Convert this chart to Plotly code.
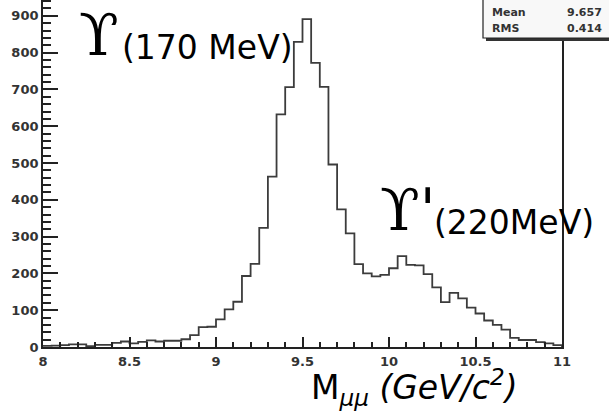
import plotly.graph_objects as go

# ---------------- data ----------------
bin_low = 8.0
bin_width = 0.05
counts = [3, 4, 5, 7, 7, 2, 6, 6, 11, 15,
          10, 14, 18, 15, 17, 17, 21, 32, 54, 55,
          75, 102, 123, 193, 226, 324, 463, 632, 706, 829,
          891, 772, 707, 496, 374, 309, 225, 200, 192, 196,
          214, 247, 223, 222, 198, 162, 122, 147, 132, 107,
          91, 72, 60, 47, 25, 19, 19, 13, 10, 5]
x_tick_vals = [8, 8.5, 9, 9.5, 10, 10.5, 11]
x_tick_text = ["8", "8.5", "9", "9.5", "10", "10.5", "11"]
y_tick_vals = [0, 100, 200, 300, 400, 500, 600, 700, 800, 900]
stat_names = ["Mean", "RMS"]
stat_values = ["9.657", "0.414"]
peak1_symbol = "ϒ"
peak1_text = "(170 MeV)"
peak2_symbol = "ϒ'"
peak2_text = "(220MeV)"
x_title = "M<sub><i>μμ</i></sub> <i>(GeV/c<sup>2</sup>)</i>"

# ---------------- geometry helpers ----------------
W, H = 609, 414
L, R, T, B = 43, 47, 0, 67
PW, PH = W - L - R, H - T - B


def px(xp):
    return (xp - L) / PW


def py(yp):
    return (H - B - yp) / PH


edges = [bin_low + i * bin_width for i in range(len(counts) + 1)]
xs = edges + [edges[-1]]
ys = counts + [counts[-1], 0]

fig = go.Figure()
fig.add_trace(go.Scatter(
    x=xs, y=ys, mode="lines", line_shape="hv",
    line=dict(color="#3c3c3c", width=1.8),
    hoverinfo="skip", showlegend=False, cliponaxis=False,
))

tick_font = dict(family="DejaVu Sans", size=13, color="#333333", weight="bold")

fig.update_layout(
    width=W, height=H,
    margin=dict(l=L, r=R, t=T, b=B, pad=0),
    paper_bgcolor="white", plot_bgcolor="white",
    showlegend=False,
    xaxis=dict(
        range=[8, 11], tickvals=x_tick_vals, ticktext=x_tick_text,
        ticks="inside", ticklen=10, tickwidth=1.5, tickcolor="#222",
        minor=dict(dtick=0.1, ticks="inside", ticklen=5, tickwidth=1.5, tickcolor="#222"),
        showline=True, linecolor="#222", linewidth=1.8, mirror=False,
        showgrid=False, zeroline=False, tickfont=tick_font,
        ticklabelstandoff=1,
    ),
    yaxis=dict(
        range=[0, 943], tickvals=y_tick_vals,
        ticks="inside", ticklen=15, tickwidth=1.5, tickcolor="#222",
        minor=dict(dtick=20, ticks="inside", ticklen=8, tickwidth=1.5, tickcolor="#222"),
        showline=True, linecolor="#222", linewidth=1.8, mirror=True,
        showgrid=False, zeroline=False, tickfont=tick_font,
    ),
)

# stats box with shadow
fig.add_shape(type="rect", xref="paper", yref="paper",
              x0=px(486), x1=px(620), y0=py(41), y1=py(-20),
              line=dict(width=0), fillcolor="#333333", layer="above")
fig.add_shape(type="rect", xref="paper", yref="paper",
              x0=px(483), x1=px(620), y0=py(38), y1=py(-20),
              line=dict(color="#222", width=1.2), fillcolor="#f8f8f8", layer="above")
stat_font = dict(family="DejaVu Sans", size=11, color="#333333", weight="bold")
for i, (n, v) in enumerate(zip(stat_names, stat_values)):
    yc = 12.5 + 16 * i
    fig.add_annotation(xref="paper", yref="paper", x=px(490), y=py(yc), text=n,
                       showarrow=False, xanchor="left", yanchor="middle", font=stat_font)
    fig.add_annotation(xref="paper", yref="paper", x=px(604), y=py(yc), text=v,
                       showarrow=False, xanchor="right", yanchor="middle", font=stat_font)

serif = dict(family="DejaVu Serif", size=58, color="black")
label_font = dict(family="DejaVu Sans", size=33, color="black")

# Upsilon(1S)
fig.add_annotation(xref="paper", yref="paper", x=px(99), y=py(35), text=peak1_symbol,
                   showarrow=False, xanchor="center", yanchor="middle", font=serif)
fig.add_annotation(xref="paper", yref="paper", x=px(120), y=py(48), text=peak1_text,
                   showarrow=False, xanchor="left", yanchor="middle", font=label_font)
# Upsilon(2S)
fig.add_annotation(xref="paper", yref="paper", x=px(378), y=py(210), text=peak2_symbol,
                   showarrow=False, xanchor="left", yanchor="middle", font=serif)
fig.add_annotation(xref="paper", yref="paper", x=px(432), y=py(222), text=peak2_text,
                   showarrow=False, xanchor="left", yanchor="middle", font=label_font)
# x title
fig.add_annotation(xref="paper", yref="paper", x=px(310), y=py(387), text=x_title,
                   showarrow=False, xanchor="left", yanchor="middle", font=label_font,
                   borderpad=0)

fig.write_html("out.html", config={"displayModeBar": False},
               post_script="document.body.style.margin='0px';")
